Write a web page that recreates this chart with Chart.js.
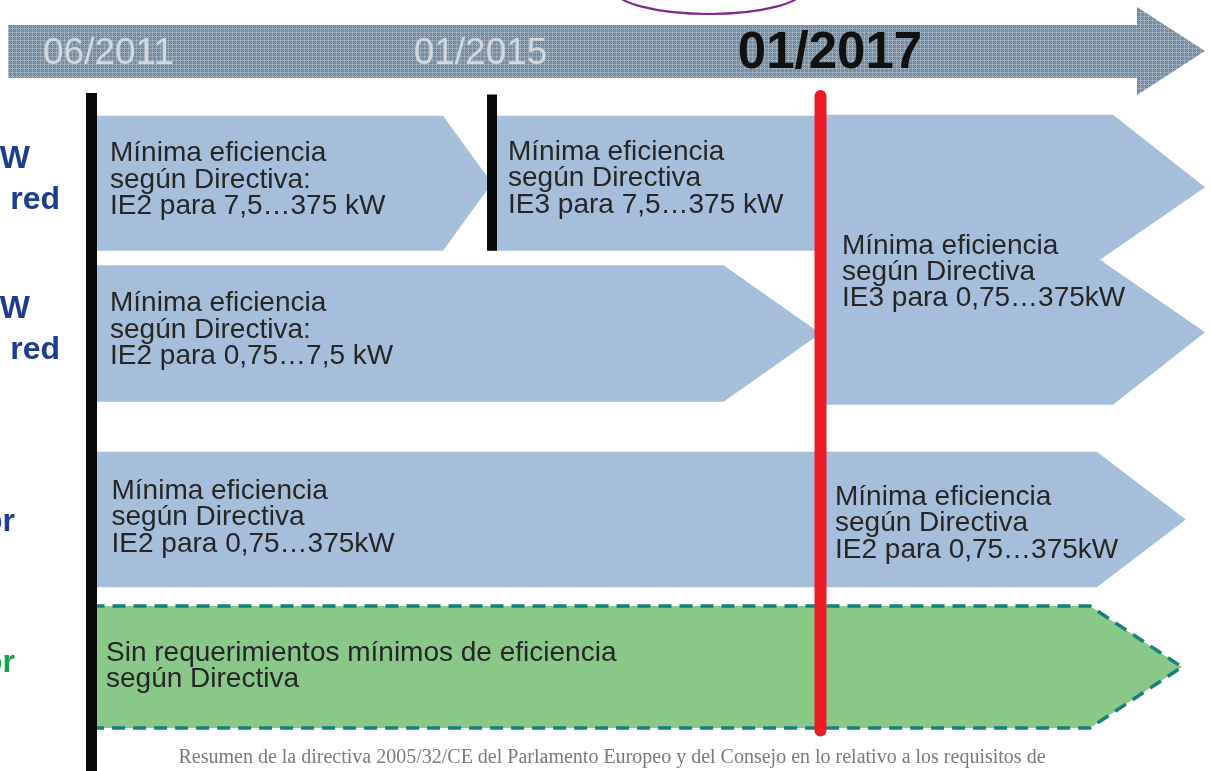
<!DOCTYPE html>
<html><head><meta charset="utf-8">
<script src="https://cdn.jsdelivr.net/npm/chart.js@4.4.1/dist/chart.umd.min.js"></script>
<style>html,body{margin:0;padding:0;background:#fff;overflow:hidden}#wrap{width:1211px;height:771px;position:relative}canvas{display:block}</style>
</head><body><div id="wrap"><canvas id="c" width="1211" height="771"></canvas></div>
<script>
// ---------------- DATA ----------------
// timeline milestones (x axis: phase index)
const milestones = ['06/2011', '01/2015', '01/2017'];
const milestoneValues = [0, 1, 2];
// row labels (y axis: row index), only their ends are visible in the source
const rowLabels = [
  ['Motores 7,5…375 kW', 'alimentados de red'],
  ['Motores 0,75…7,5 kW', 'alimentados de red'],
  ['Motores con variador'],
  ['Motores con convertidor']
];
// requirement periods: row, start phase, end phase, text
const segRow   = [0, 0, 0.51, 1, 2, 2, 3];
const segStart = [0, 1, 2, 0, 0, 2, 0];
const segEnd   = [1, 2, 3, 2, 2, 2.95, 2.94];
const segText  = [
  ['Mínima eficiencia', 'según Directiva:', 'IE2 para 7,5…375 kW'],
  ['Mínima eficiencia', 'según Directiva', 'IE3 para 7,5…375 kW'],
  ['Mínima eficiencia', 'según Directiva', 'IE3 para 0,75…375kW'],
  ['Mínima eficiencia', 'según Directiva:', 'IE2 para 0,75…7,5 kW'],
  ['Mínima eficiencia', 'según Directiva', 'IE2 para 0,75…375kW'],
  ['Mínima eficiencia', 'según Directiva', 'IE2 para 0,75…375kW'],
  ['Sin requerimientos mínimos de eficiencia', 'según Directiva']
];
const caption = 'Resumen de la directiva 2005/32/CE del Parlamento Europeo y del Consejo en lo relativo a los requisitos de';

// ---------------- STYLE ----------------
const BLUE = '#a4bedc', GREEN = '#88c988';
const segKind   = ['arrow', 'flat', 'double', 'arrow', 'flat', 'arrow', 'arrow'];
const segTip    = [49, 0, 92, 97, 0, 89, 92];
const segNotch  = [0, 0, 105, 0, 0, 0, 0];
const segThick  = [135, 135, 290, 136.5, 135.5, 135.5, 122];
const segFill   = [BLUE, BLUE, BLUE, BLUE, BLUE, BLUE, GREEN];
const segDashed = [false, false, false, false, false, false, true];
const segTextDx = [18.5, 16, 21.5, 18.5, 20, 14.5, 14.5];
const segTextDy = [-3.3, -4.6, 12.5, -3.5, -2, 4, -1];
const labelShift = [17, -11.5, 9.5];
const labelStyle = [
  {font: '37px "Liberation Sans", Arial, sans-serif', color: '#d2d8de'},
  {font: '37px "Liberation Sans", Arial, sans-serif', color: '#d2d8de'},
  {font: 'bold 51px "Liberation Sans", Arial, sans-serif', color: '#111111'}
];
// milestone marker lines: [value, yFrom, yTo (row units), width, color]
const markerLines = [
  [0, -0.6, 3.75, 11, '#0a0a0a'],
  [1, -0.59, 0.45, 10, '#0a0a0a'],
  [2, -0.62, 3.43, 12, '#ec1c24']
];
const rowLabelColor = ['#1f3c8e', '#1f3c8e', '#1f3c8e', '#19a04c'];

// ---------------- piecewise linear scale ----------------
class PiecewiseScale extends Chart.LinearScale {
  static id = 'piecewise';
  static defaults = Chart.LinearScale.defaults;
  _frac(v) {
    const s = this.options.spans, n = s.length;
    const total = s.reduce((a, b) => a + b, 0);
    let d = v - this.min, acc = 0;
    if (d <= 0) acc = d * s[0];
    else {
      let i = 0;
      while (d > 1 && i < n - 1) { acc += s[i]; d -= 1; i++; }
      acc += d * s[i];
    }
    return acc / total;
  }
  getPixelForValue(v) {
    if (v === null || v === undefined || isNaN(v)) return NaN;
    return this.getPixelForDecimal(this._frac(+v));
  }
  getValueForPixel(p) {
    const s = this.options.spans, total = s.reduce((a, b) => a + b, 0);
    let acc = this.getDecimalForPixel(p) * total, v = this.min, i = 0;
    if (acc <= 0) return v + acc / s[0];
    while (acc > s[i] && i < s.length - 1) { acc -= s[i]; v += 1; i++; }
    return v + acc / s[i];
  }
}
Chart.register(PiecewiseScale);

function shapePath(ctx, kind, L, R, T, B, tip, notch) {
  const C = (T + B) / 2, h = B - T;
  ctx.beginPath();
  ctx.moveTo(L, T);
  if (kind === 'flat') { ctx.lineTo(R, T); ctx.lineTo(R, B); }
  else if (kind === 'arrow') { ctx.lineTo(R - tip, T); ctx.lineTo(R, C); ctx.lineTo(R - tip, B); }
  else { ctx.lineTo(R - tip, T); ctx.lineTo(R, T + h / 4); ctx.lineTo(R - notch, C); ctx.lineTo(R, T + 3 * h / 4); ctx.lineTo(R - tip, B); }
  ctx.lineTo(L, B);
  ctx.closePath();
}

const diagramPlugin = {
  id: 'diagram',
  afterDraw(chart) {
    const ctx = chart.ctx, xs = chart.scales.x, ys = chart.scales.y;
    ctx.save();
    // timeline arrow (axis band)
    const pc = document.createElement('canvas'); pc.width = 4; pc.height = 4;
    const p = pc.getContext('2d');
    p.fillStyle = '#6c8296'; p.fillRect(0, 0, 4, 4);
    p.fillStyle = '#a2b2c0'; p.fillRect(0, 0, 4, 1); p.fillRect(0, 0, 1, 4);
    p.fillStyle = '#8095a8'; p.fillRect(2, 0, 1, 4); p.fillRect(0, 2, 4, 1);
    const pat = ctx.createPattern(pc, 'repeat');
    const aL = xs.getPixelForValue(-0.208), aR = xs.getPixelForValue(3), hb = aR - 68;
    ctx.fillStyle = pat;
    ctx.beginPath();
    ctx.moveTo(aL, 25); ctx.lineTo(hb, 25); ctx.lineTo(hb, 7); ctx.lineTo(aR, 51);
    ctx.lineTo(hb, 95); ctx.lineTo(hb, 78); ctx.lineTo(aL, 78); ctx.closePath(); ctx.fill();
    // milestone labels
    ctx.textAlign = 'center'; ctx.textBaseline = 'middle';
    milestones.forEach((m, i) => {
      ctx.font = labelStyle[i].font; ctx.fillStyle = labelStyle[i].color;
      ctx.fillText(m, xs.getPixelForValue(milestoneValues[i]) + labelShift[i], 54);
    });
    // purple ellipse annotation
    ctx.strokeStyle = '#84288e'; ctx.lineWidth = 2.2;
    ctx.beginPath(); ctx.ellipse(709, -11, 95, 25, 0, 0, Math.PI * 2); ctx.stroke();

    // period shapes from bar elements
    chart.data.datasets.forEach((ds, i) => {
      const el = chart.getDatasetMeta(i).data[0];
      if (!el) return;
      const pr = el.getProps(['x', 'y', 'base', 'height'], true);
      const L = Math.min(pr.base, pr.x), R = Math.max(pr.base, pr.x);
      const T = pr.y - pr.height / 2, B = pr.y + pr.height / 2;
      ctx.fillStyle = segFill[i];
      shapePath(ctx, segKind[i], L, R, T, B, segTip[i], segNotch[i]);
      ctx.fill();
      if (segDashed[i]) {
        ctx.strokeStyle = '#16807a'; ctx.lineWidth = 3.5; ctx.setLineDash([13, 8]);
        ctx.lineJoin = 'miter';
        ctx.beginPath();
        ctx.moveTo(L, T); ctx.lineTo(R - segTip[i], T); ctx.lineTo(R, pr.y);
        ctx.lineTo(R - segTip[i], B); ctx.lineTo(L, B);
        ctx.stroke(); ctx.setLineDash([]);
      }
      // text
      ctx.font = '28px "Liberation Sans", Arial, sans-serif';
      ctx.fillStyle = '#262626'; ctx.textAlign = 'left'; ctx.textBaseline = 'middle';
      const lines = segText[i], lh = 26.3;
      const c = pr.y + segTextDy[i];
      lines.forEach((t, k) => {
        ctx.fillText(t, L + segTextDx[i], c + (k - (lines.length - 1) / 2) * lh);
      });
    });

    // milestone marker lines
    markerLines.forEach(([v, y0, y1, w, col]) => {
      const x = xs.getPixelForValue(v);
      ctx.strokeStyle = col; ctx.lineWidth = w;
      ctx.lineCap = col === '#ec1c24' ? 'round' : 'butt';
      const top = ys.getPixelForValue(y0), bot = ys.getPixelForValue(y1);
      ctx.beginPath();
      ctx.moveTo(x, top + (ctx.lineCap === 'round' ? w / 2 : 0));
      ctx.lineTo(x, bot);
      ctx.stroke();
    });
    ctx.lineCap = 'butt';

    // row labels (clipped by the left edge)
    ctx.font = 'bold 32px "Liberation Sans", Arial, sans-serif';
    ctx.textAlign = 'right'; ctx.textBaseline = 'middle';
    rowLabels.forEach((lab, r) => {
      const cy = ys.getPixelForValue(r);
      ctx.fillStyle = rowLabelColor[r];
      if (lab.length === 2) {
        ctx.fillText(lab[0], 30, cy - 24);
        ctx.fillText(lab[1], 60, cy + 17);
      } else {
        ctx.fillText(lab[0], 15, cy + (r === 3 ? -4 : 3));
      }
    });

    // caption
    ctx.font = '20px "Liberation Serif", "Times New Roman", serif';
    ctx.fillStyle = '#7a7a7a'; ctx.textAlign = 'center'; ctx.textBaseline = 'middle';
    ctx.fillText(caption, 612, 758);
    ctx.restore();
  }
};

new Chart(document.getElementById('c'), {
  type: 'bar',
  data: {
    datasets: segRow.map((r, i) => ({
      label: 'periodo ' + (i + 1),
      data: [{x: [segStart[i], segEnd[i]], y: r}],
      barThickness: segThick[i],
      grouped: false,
      backgroundColor: 'rgba(0,0,0,0)',
      borderWidth: 0,
      clip: false
    }))
  },
  options: {
    indexAxis: 'y',
    responsive: false,
    animation: false,
    events: [],
    layout: {padding: {left: 91.5, right: 6, top: 183.2, bottom: 104}},
    scales: {
      x: {type: 'piecewise', min: 0, max: 3, spans: [400.5, 328.5, 384.5], display: false},
      y: {type: 'piecewise', min: 0, max: 3, reverse: true, spans: [150.2, 186.1, 147.5], display: false}
    },
    plugins: {legend: {display: false}, tooltip: {enabled: false}}
  },
  plugins: [diagramPlugin]
});
</script>
</body></html>
